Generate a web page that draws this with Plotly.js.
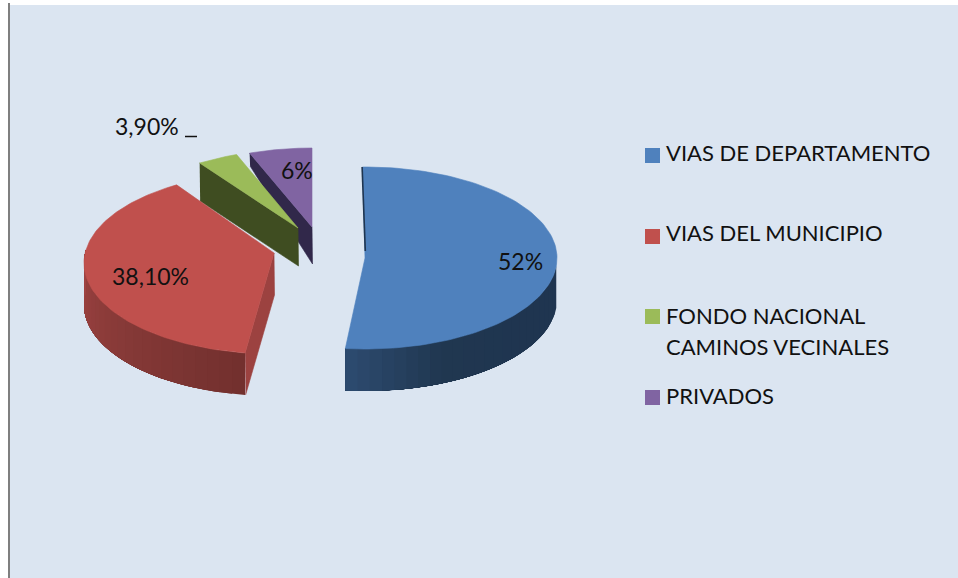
<!DOCTYPE html>
<html>
<head>
<meta charset="utf-8">
<script src="https://cdn.plot.ly/plotly-3.0.1.min.js"></script>
<style>html,body{margin:0;padding:0;background:#fff}#chart{width:958px;height:578px}</style>
</head>
<body>
<div id="chart"></div>
<script>
// ---- data ----
const categories = ['VIAS DE DEPARTAMENTO', 'VIAS DEL MUNICIPIO', 'FONDO NACIONAL<br>CAMINOS VECINALES', 'PRIVADOS'];
const shares = [52, 38.1, 3.9, 6];
const shareLabels = ['52%', '38,10%', '3,90%', '6%'];

// ---- styling ----
const topColors = ['#4f81bd', '#c0504d', '#9bbb59', '#8064a2'];
const FONT = 'Lato, Carlito, "Open Sans", sans-serif';

// ---- exploded, tilted pie geometry: one entry per slice ----
const sliceGeo = [
  {ax: 365, ay: 258, cy: 258, rx: 192, ry: 91, a: 0.1, rot: -0.7, depth: 42,
   rim: ['#1f3550', '#1f3550', '#203750', '#2d4b70']},
  {ax: 274, ay: 253, cy: 263, rx: 190, ry: 91, a: -0.14, rot: 0.4, depth: 42,
   rim: ['#72302e', '#883a38', '#a04342'],
   wall: {color: '#9c4240', inner: 42, outer: 42}},
  {ax: 298, ay: 228, cy: 238, rx: 185, ry: 88.5, a: -0.11, rot: 0,
   wall: {color: '#3f4d21', inner: 38, outer: 38}},
  {ax: 312, ay: 227, cy: 237, rx: 188, ry: 89, a: -0.11, rot: 0,
   wall: {color: '#31284a', inner: 37, outer: 13}}
];
const labelPos = [[520, 260.5], [150, 275.5], [147, 126], [297, 170]];
const legendRows = [155.5, 236.5, 316.5, 397.5];
const legendText = [[664, 152], [664, 232], [664, 315], [664, 395]];
const legendLineStep = 31;

// ---- helpers ----
function rimPoint(g, deg) {
  const t = (deg + g.rot) * Math.PI / 180;
  const u = Math.sin(t), v = -Math.cos(t), a = g.a;
  const k = 1 + a * v;
  return [g.ax + g.rx * u * Math.sqrt(1 - a * a) / k,
          g.cy + g.ry * (v + a) / k];
}
function hexMix(c1, c2, f) {
  const p = c => [1, 3, 5].map(i => parseInt(c.substr(i, 2), 16));
  const A = p(c1), B = p(c2);
  return 'rgb(' + A.map((x, i) => Math.round(x + (B[i] - x) * f)).join(',') + ')';
}
function poly(pts, color, lw) {
  return {type: 'scatter', mode: 'lines', x: pts.map(p => p[0]), y: pts.map(p => p[1]),
    fill: 'toself', fillcolor: color, line: {color: color, width: lw === undefined ? 0.6 : lw},
    showlegend: false, hoverinfo: 'skip'};
}

// ---- build slices from the values ----
const traces = [];
let cum = 0;
const spans = shares.map(s => { const r = [cum, cum + s * 3.6]; cum += s * 3.6; return r; });
[3, 2, 1, 0].forEach(i => {
  const g = sliceGeo[i], [s, e] = spans[i];
  // radial cut wall
  if (g.wall) {
    const o = rimPoint(g, s);
    traces.push(poly([o, [g.ax, g.ay], [g.ax + 0.5, g.ay + g.wall.inner], [o[0] + 0.5, o[1] + g.wall.outer]], g.wall.color));
  }
  // curved outer wall: overlapping bands painted one over the next, for the shading
  if (g.rim) {
    const a0 = Math.max(s, 90), a1 = Math.min(e, 270), n = 24;
    for (let k = 0; k < n; k++) {
      const d0 = a0 + (a1 - a0) * k / n;
      const upper = [], lower = [];
      for (let m = 0; m <= 30; m++) {
        const p = rimPoint(g, d0 + (a1 - d0) * m / 30);
        upper.push(p);
        lower.unshift([p[0], p[1] + g.depth]);
      }
      const pos = (k + 0.5) / n * (g.rim.length - 1), j = Math.min(Math.floor(pos), g.rim.length - 2);
      traces.push(poly(upper.concat(lower), hexMix(g.rim[j], g.rim[j + 1], pos - j), 0));
    }
  }
  // top face
  const pts = [[g.ax, g.ay]];
  for (let k = 0; k <= 120; k++) pts.push(rimPoint(g, s + (e - s) * k / 120));
  pts.push([g.ax, g.ay]);
  const t = poly(pts, topColors[i]);
  t.name = categories[i].replace('<br>', ' ');
  traces.push(t);
});
// dark sliver along the first slice's starting edge
{
  const g = sliceGeo[0], o = rimPoint(g, spans[0][0]);
  traces.push({type: 'scatter', mode: 'lines', x: [o[0] - 0.3, g.ax + 0.3], y: [o[1], g.ay - 7],
    line: {color: '#1f3550', width: 1.6}, showlegend: false, hoverinfo: 'skip'});
}
// legend swatches
traces.push({type: 'scatter', mode: 'markers',
  x: legendRows.map(() => 652.5), y: legendRows,
  marker: {symbol: 'square', size: 15, color: topColors, line: {width: 0}},
  showlegend: false, hoverinfo: 'skip'});

const annotations = [];
shareLabels.forEach((txt, i) => annotations.push({
  x: labelPos[i][0], y: labelPos[i][1], xref: 'x', yref: 'y', text: txt, showarrow: false,
  xanchor: 'center', yanchor: 'middle', font: {family: FONT, size: 23, color: '#111'}
}));
categories.forEach((txt, i) => txt.split('<br>').forEach((line, n) => annotations.push({
  x: legendText[i][0], y: legendText[i][1] + n * legendLineStep, xref: 'x', yref: 'y', text: line, showarrow: false,
  xanchor: 'left', yanchor: 'middle', align: 'left', font: {family: FONT, size: 22, color: '#111'}
})));

const layout = {
  width: 958, height: 578,
  margin: {l: 0, r: 0, t: 0, b: 0},
  paper_bgcolor: '#ffffff', plot_bgcolor: '#ffffff',
  showlegend: false,
  xaxis: {range: [0, 958], visible: false, fixedrange: true},
  yaxis: {range: [578, 0], visible: false, fixedrange: true},
  shapes: [
    {type: 'rect', layer: 'below', xref: 'x', yref: 'y', x0: 10, x1: 958, y0: 5, y1: 578, fillcolor: '#dbe5f1', line: {width: 0}},
    {type: 'rect', layer: 'below', xref: 'x', yref: 'y', x0: 8, x1: 10, y0: 3, y1: 578, fillcolor: '#7f7f7f', line: {width: 0}},
    {type: 'line', xref: 'x', yref: 'y', x0: 185, x1: 197, y0: 136.5, y1: 136.5, line: {color: '#111', width: 1.5}}
  ],
  annotations: annotations
};
Plotly.newPlot('chart', traces, layout, {staticPlot: true, displayModeBar: false});
</script>
</body>
</html>
